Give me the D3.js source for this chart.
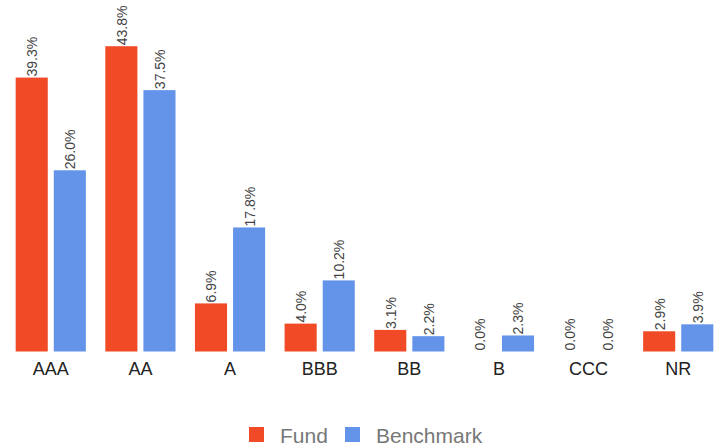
<!DOCTYPE html>
<html>
<head>
<meta charset="utf-8">
<script src="https://cdn.jsdelivr.net/npm/d3@7"></script>
<style>
  body { margin: 0; background: #fff; }
  text { font-family: "Liberation Sans", Arial, sans-serif; }
</style>
</head>
<body>
<div id="chart"></div>
<script>
// Chart data
var categories = ["AAA", "AA", "A", "BBB", "BB", "B", "CCC", "NR"];
var series = ["Fund", "Benchmark"];
var fundValues = [39.3, 43.8, 6.9, 4.0, 3.1, 0.0, 0.0, 2.9];
var benchValues = [26.0, 37.5, 17.8, 10.2, 2.2, 2.3, 0.0, 3.9];
var colors = ["#f04a26", "#6494ea"];

var width = 723, height = 446;

var svg = d3.select("#chart").append("svg")
    .attr("width", width)
    .attr("height", height);

// Scales
var x0 = d3.scaleBand()
    .domain(categories)
    .range([6, 723])
    .paddingInner(0.217)
    .paddingOuter(0.108);

var x1 = d3.scaleBand()
    .domain(series)
    .range([0, x0.bandwidth()])
    .paddingInner(0.158);

var y = d3.scaleLinear()
    .domain([0, 50])
    .range([351.5, 3]);

var color = d3.scaleOrdinal().domain(series).range(colors);

var rows = categories.map(function(c, i) {
  return { cat: c, values: [
    { key: "Fund", value: fundValues[i] },
    { key: "Benchmark", value: benchValues[i] }
  ]};
});

var groups = svg.selectAll("g.group")
    .data(rows)
  .enter().append("g")
    .attr("class", "group")
    .attr("transform", function(d) { return "translate(" + x0(d.cat) + ",0)"; });

// Bars
groups.selectAll("rect")
    .data(function(d) { return d.values; })
  .enter().append("rect")
    .attr("x", function(d) { return x1(d.key); })
    .attr("width", x1.bandwidth())
    .attr("y", function(d) { return y(d.value); })
    .attr("height", function(d) { return y(0) - y(d.value); })
    .attr("fill", function(d) { return color(d.key); });

// Value labels, rotated
groups.selectAll("text.val")
    .data(function(d) { return d.values; })
  .enter().append("text")
    .attr("class", "val")
    .attr("transform", function(d) {
      return "translate(" + (x1(d.key) + x1.bandwidth() / 2 + 0.5) + "," + (y(d.value) - 1) + ") rotate(-90)";
    })
    .attr("dy", "0.35em")
    .attr("text-anchor", "start")
    .style("font-size", "14px")
    .style("fill", "#444")
    .text(function(d) { return d.value.toFixed(1) + "%"; });

// Category axis
var xAxis = svg.append("g")
    .attr("transform", "translate(0," + y(0) + ")")
    .call(d3.axisBottom(x0).tickSize(0).tickPadding(11));
xAxis.select(".domain").remove();
xAxis.selectAll("text")
    .style("font-size", "18px")
    .style("fill", "#222")
    .style("font-family", "'Liberation Sans', Arial, sans-serif");

// Legend
var legendPos = [249, 345];
var legend = svg.selectAll("g.legend")
    .data(series)
  .enter().append("g")
    .attr("class", "legend")
    .attr("transform", function(d, i) { return "translate(" + legendPos[i] + ",427)"; });

legend.append("rect")
    .attr("width", 15)
    .attr("height", 15)
    .attr("fill", function(d) { return color(d); });

legend.append("text")
    .attr("x", 31)
    .attr("y", 15.5)
    .style("font-size", "21px")
    .style("fill", "#777")
    .text(function(d) { return d; });
</script>
</body>
</html>
